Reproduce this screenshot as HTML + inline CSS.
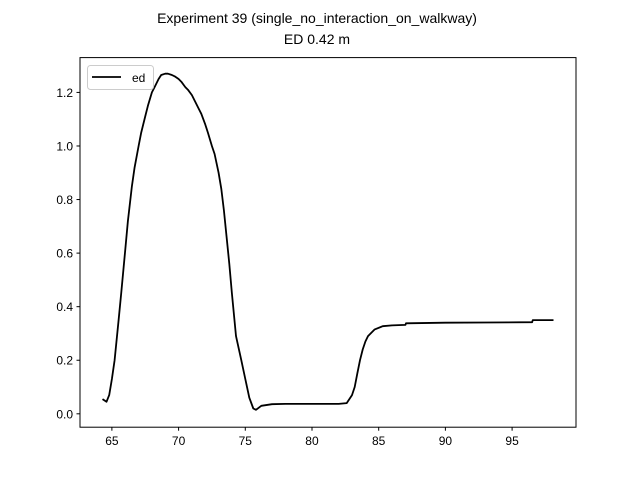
<!DOCTYPE html>
<html><head><meta charset="utf-8"><style>
body{margin:0;background:#fff;}
svg{display:block;font-family:"Liberation Sans","DejaVu Sans",sans-serif;}
</style></head><body>
<svg id="chart" width="640" height="480">
<rect width="640" height="480" fill="#fff"/>
<text x="317" y="23" text-anchor="middle" font-size="14">Experiment 39 (single_no_interaction_on_walkway)</text>
<text x="317" y="44" text-anchor="middle" font-size="14">ED 0.42 m</text>
<g id="ticks"></g>
<path id="line" fill="none" stroke="#000" stroke-width="1.8" stroke-linejoin="round"/>
<rect x="80" y="57.6" width="496" height="369.6" fill="none" stroke="#000" stroke-width="1"/>
<g>
<rect x="87.5" y="65.5" width="66" height="24" rx="3" fill="#fff" fill-opacity="0.8" stroke="#ccc"/>
<line x1="92" y1="77" x2="121" y2="77" stroke="#000" stroke-width="1.8"/>
<text x="132" y="82" font-size="12">ed</text>
</g>
</svg>
<script>
const xs=[64.3,64.6,64.8,65.0,65.2,65.5,65.7,66.0,66.2,66.5,66.7,67.0,67.2,67.5,67.7,68.0,68.2,68.5,68.7,69.0,69.2,69.5,69.7,70.0,70.2,70.5,70.7,71.0,71.2,71.5,71.7,72.0,72.2,72.5,72.7,73.0,73.2,73.4,73.6,73.8,74.0,74.3,74.7,75.0,75.3,75.6,75.8,76.2,77,78,80,82,82.6,83,83.2,83.4,83.6,83.8,84.0,84.2,84.7,85.3,86,87,87.05,90,93,96.5,96.55,98.1];
const ys=[0.055,0.045,0.07,0.13,0.2,0.35,0.45,0.61,0.72,0.85,0.92,1.0,1.05,1.11,1.15,1.2,1.22,1.25,1.265,1.27,1.27,1.265,1.26,1.25,1.24,1.22,1.21,1.19,1.17,1.14,1.12,1.08,1.05,1.0,0.97,0.9,0.84,0.76,0.66,0.56,0.45,0.29,0.2,0.13,0.06,0.02,0.015,0.03,0.036,0.037,0.037,0.037,0.04,0.07,0.1,0.15,0.2,0.24,0.27,0.29,0.315,0.327,0.33,0.332,0.338,0.34,0.341,0.342,0.35,0.35];
const xTicks=[65,70,75,80,85,90,95];
const yTicks=[0.0,0.2,0.4,0.6,0.8,1.0,1.2];
const X0=62.61,X1=99.79,Y0=-0.05,Y1=1.33;
function sx(v){return 80+(v-X0)/(X1-X0)*496;}
function sy(v){return 427.2-(v-Y0)/(Y1-Y0)*369.6;}
const NS="http://www.w3.org/2000/svg";
const g=document.getElementById('ticks');
xTicks.forEach(t=>{
 const l=document.createElementNS(NS,'line');
 l.setAttribute('x1',sx(t));l.setAttribute('x2',sx(t));l.setAttribute('y1',427.2);l.setAttribute('y2',430.7);l.setAttribute('stroke','#000');
 
 
 g.appendChild(l);
 const tx=document.createElementNS(NS,'text');
 tx.setAttribute('x',sx(t));tx.setAttribute('y',445);tx.setAttribute('text-anchor','middle');tx.setAttribute('font-size','12');tx.textContent=t;
 
 
 g.appendChild(tx);
});
yTicks.forEach(t=>{
 const l=document.createElementNS(NS,'line');
 l.setAttribute('x1',76.5);l.setAttribute('x2',80);l.setAttribute('y1',sy(t));l.setAttribute('y2',sy(t));l.setAttribute('stroke','#000');
 
 
 g.appendChild(l);
 const tx=document.createElementNS(NS,'text');
 tx.setAttribute('x',73);tx.setAttribute('y',sy(t)+4.5);tx.setAttribute('text-anchor','end');tx.setAttribute('font-size','12');tx.textContent=t.toFixed(1);
 
 
 g.appendChild(tx);
});
document.getElementById('line').setAttribute('d',xs.map((x,i)=>(i?'L':'M')+sx(x).toFixed(1)+','+sy(ys[i]).toFixed(1)).join(''));
</script>
</body></html>
